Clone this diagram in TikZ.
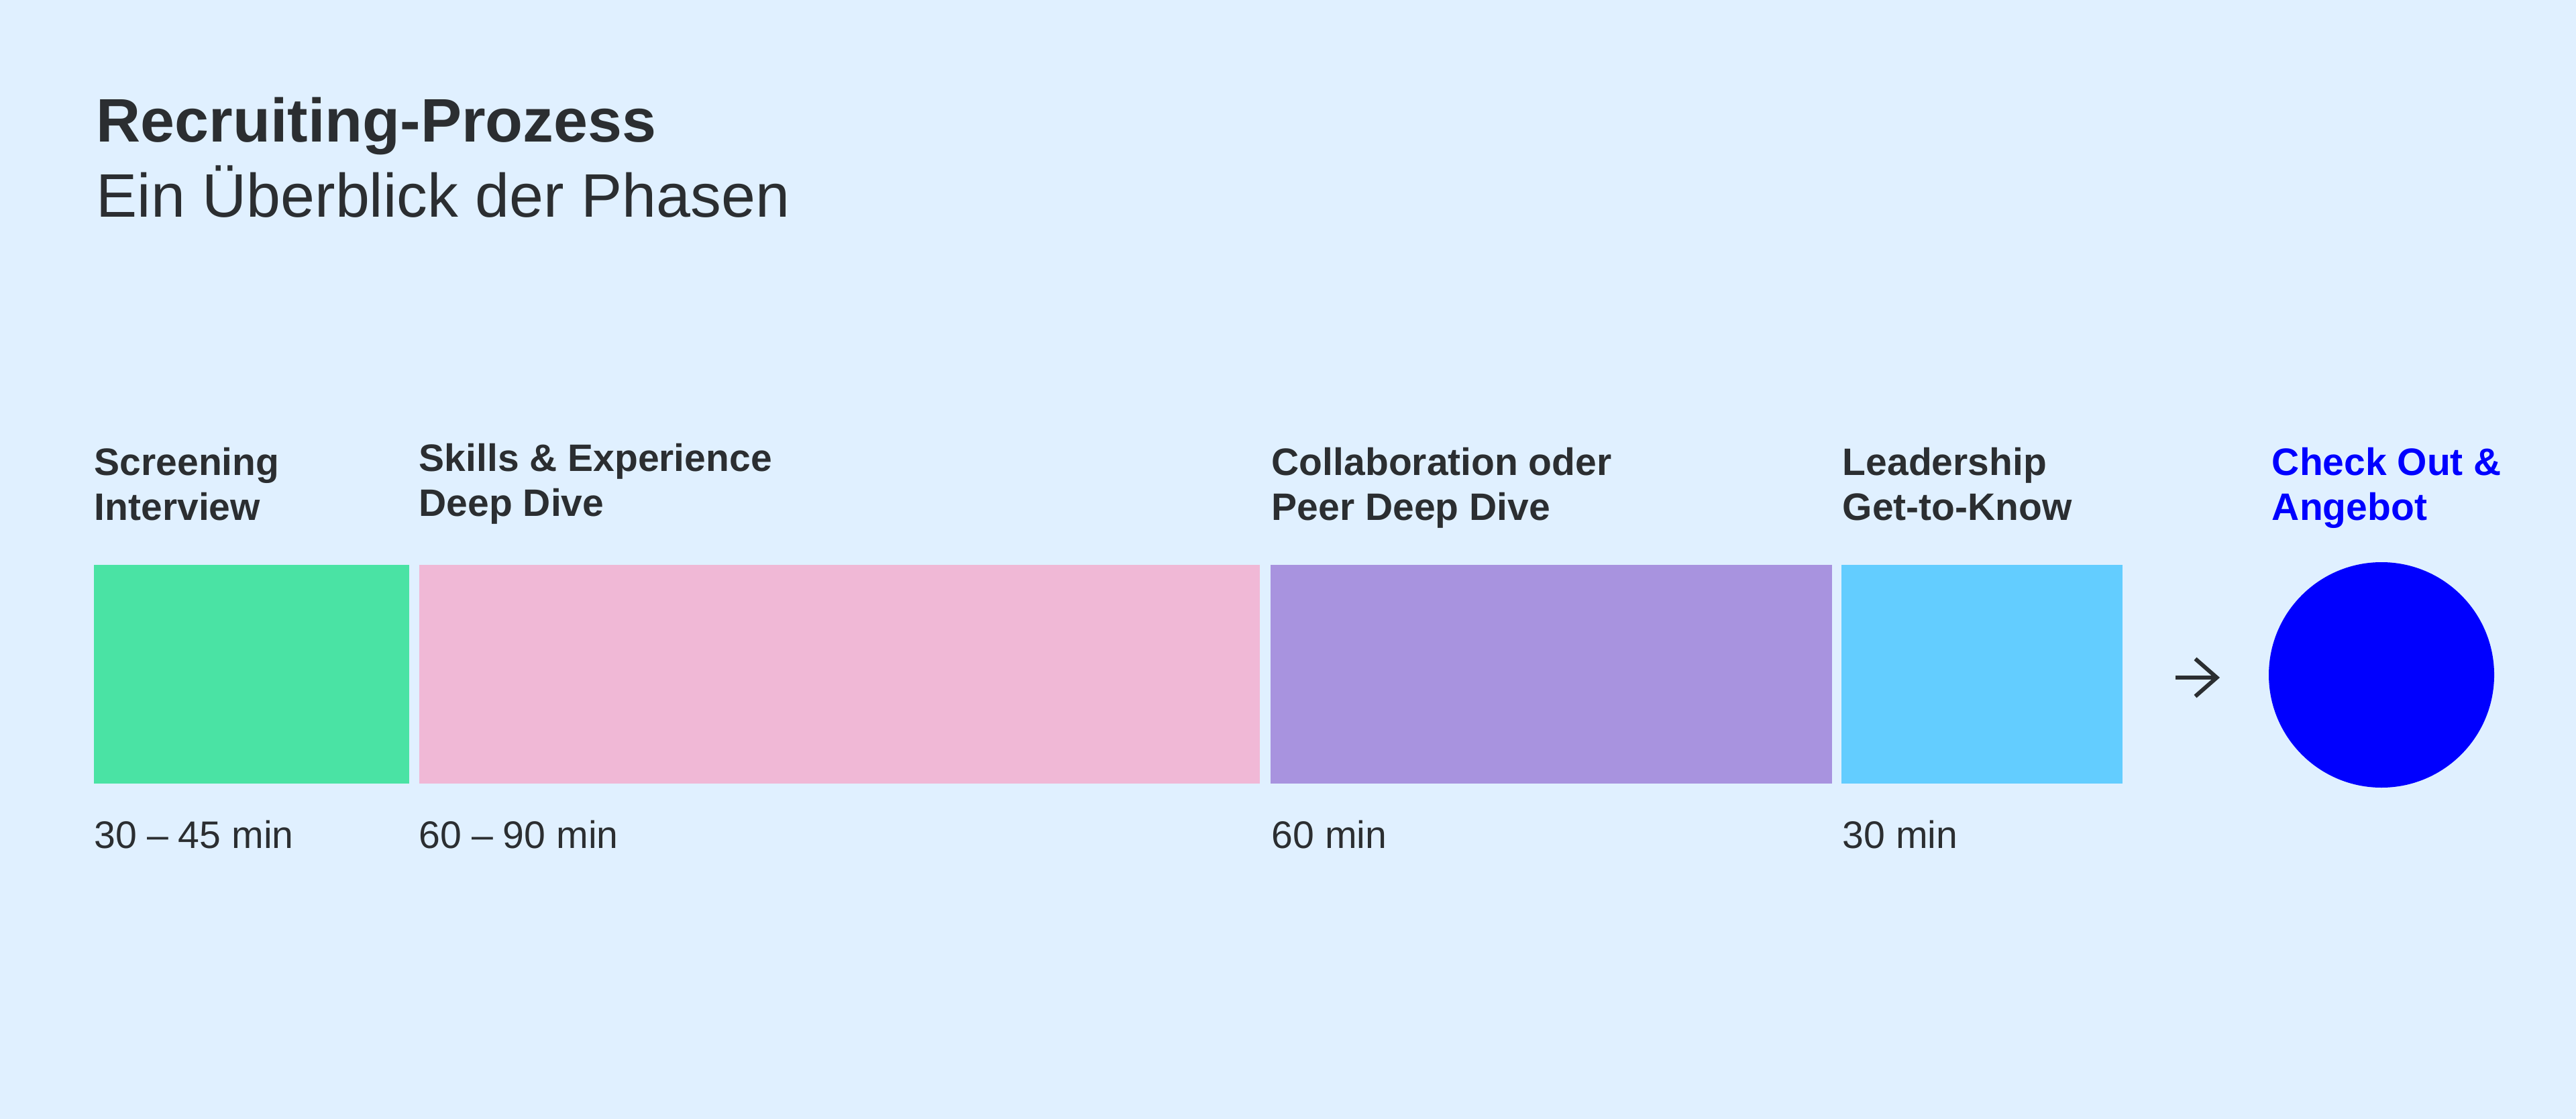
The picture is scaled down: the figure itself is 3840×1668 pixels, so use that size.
\documentclass[tikz,border=0pt]{standalone}
\usepackage{fontspec}
\setmainfont{Liberation Sans}
\usetikzlibrary{arrows.meta}
\definecolor{bg}{HTML}{E0F0FF}
\definecolor{ink}{HTML}{2B2E31}
\definecolor{cgreen}{HTML}{4AE3A4}
\definecolor{cpink}{HTML}{F0B8D6}
\definecolor{cpurple}{HTML}{A893DF}
\definecolor{ccyan}{HTML}{63CDFF}
\definecolor{cblue}{HTML}{0000FF}
\tikzset{
  phasebox/.style={draw=none, inner sep=0pt, outer sep=0pt, anchor=north west, minimum height=81.5pt},
  titlefont/.style={font=\fontsize{22.9}{28}\selectfont\bfseries, text=ink, inner sep=0pt, anchor=base west},
  subfont/.style={font=\fontsize{22.9}{28}\selectfont, text=ink, inner sep=0pt, anchor=base west},
  lbl/.style={font=\fontsize{14.25}{16.75}\selectfont\bfseries, text=ink, inner sep=0pt, anchor=base west, align=left},
  dur/.style={font=\fontsize{14.3}{16.75}\selectfont, text=ink, inner sep=0pt, anchor=base west},
}
\newcommand{\dgap}{\hspace{0.26em}}
\begin{document}
\begin{tikzpicture}[x=0.25pt,y=-0.25pt]
\fill[bg] (0,0) rectangle (3840,1668);
\useasboundingbox (0,0) rectangle (3840,1668);

\node[titlefont] (title) at (143,212) {Recruiting-Prozess};
\node[subfont] (subtitle) at (143,324) {Ein Überblick der Phasen};

\node[phasebox, fill=cgreen, minimum width=117.55pt] (p1) at (139.6,842) {};
\node[phasebox, fill=cpink, minimum width=313.4pt] (p2) at (624.5,842) {};
\node[phasebox, fill=cpurple, minimum width=209.4pt] (p3) at (1893.5,842) {};
\node[phasebox, fill=ccyan, minimum width=104.75pt] (p4) at (2745,842) {};
\node[circle, fill=cblue, inner sep=0pt, minimum size=84pt] (offer) at (3550,1006) {};

% anchor base = baseline of the last line
\node[lbl] (l1) at (140,775) {Screening\\Interview};
\node[lbl] (l2) at (624,769) {Skills \& Experience\\Deep Dive};
\node[lbl] (l3) at (1895,775) {Collaboration oder\\Peer Deep Dive};
\node[lbl] (l4) at (2746,775) {Leadership\\Get-to-Know};
\node[lbl, text=cblue] (l5) at (3386,775) {Check Out \&\\Angebot};

\node[dur] (d1) at (140,1264) {30\dgap–\dgap45 min};
\node[dur] (d2) at (624,1264) {60\dgap–\dgap90 min};
\node[dur] (d3) at (1895,1264) {60 min};
\node[dur] (d4) at (2746,1264) {30 min};

\coordinate (a1) at (3243,1010);
\coordinate (a2) at (3309,1010);
\draw[ink, line width=1.5pt, -{Straight Barb[length=8pt,width=14pt]}] (a1) -- (a2);
\end{tikzpicture}
\end{document}
